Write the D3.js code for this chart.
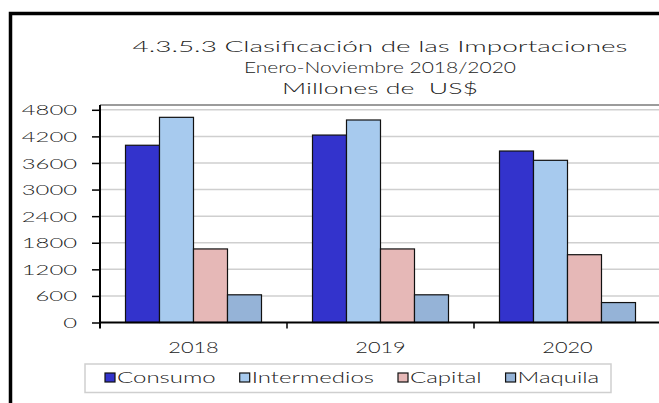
<!DOCTYPE html>
<html>
<head>
<meta charset="utf-8">
<script src="https://cdn.jsdelivr.net/npm/d3@7"></script>
<style>
  body { margin: 0; background: #fff; }
  svg { display: block; }
  text { font-family: Lato, "Open Sans", sans-serif; font-weight: 300; fill: #222; }
</style>
</head>
<body>
<script>
const years = ["2018", "2019", "2020"];
const series = ["Consumo", "Intermedios", "Capital", "Maquila"];
const consumo = [4000, 4230, 3870];
const intermedios = [4630, 4570, 3660];
const capital = [1660, 1660, 1530];
const maquila = [625, 625, 450];
const yTicks = [0, 600, 1200, 1800, 2400, 3000, 3600, 4200, 4800];
const titleLines = ["4.3.5.3 Clasificación de las Importaciones", "Enero-Noviembre 2018/2020", "Millones de  US$"];
const colors = ["#3333cc", "#a7caee", "#e6b8b7", "#95b3d7"];

const values = [consumo, intermedios, capital, maquila];
const data = years.map((yr, i) => ({
  year: yr,
  vals: series.map((s, j) => ({key: s, value: values[j][i]}))
}));

const W = 659, H = 403;
const mLeft = 100, mRight = 661, mTop = 105, mBottom = 322.5;
const titleWidths = [495, 272, 196];

// the source font is very wide: widen glyphs and spacing together
function widen(sel, k) {
  sel.each(function () {
    const L = this.getComputedTextLength();
    d3.select(this).attr("textLength", L * k).attr("lengthAdjust", "spacingAndGlyphs");
  });
}

const svg = d3.select("body").append("svg")
  .attr("width", W)
  .attr("height", H);

svg.append("rect").attr("width", W).attr("height", H).attr("fill", "#fff");

// outer frame (cut off on right and bottom)
svg.append("rect")
  .attr("x", 10.5).attr("y", 13.5)
  .attr("width", 700).attr("height", 450)
  .attr("fill", "#fff")
  .attr("stroke", "#000")
  .attr("stroke-width", 3.5);

// title
svg.append("g").selectAll("text")
  .data(titleLines)
  .join("text")
  .attr("x", 380)
  .attr("y", (d, i) => 52 + i * 21)
  .attr("text-anchor", "middle")
  .style("font-size", "16px")
  .style("white-space", "pre")
  .attr("textLength", (d, i) => titleWidths[i])
  .attr("lengthAdjust", "spacingAndGlyphs")
  .text(d => d);

const x = d3.scaleBand().domain(years).range([mLeft, mRight]);
const xs = d3.scaleBand().domain(series).range([0, x.bandwidth()]).paddingOuter(0.75);
const y = d3.scaleLinear().domain([0, 4800]).range([mBottom, 109.8]);
const color = d3.scaleOrdinal(series, colors);

// gridlines
svg.append("g")
  .selectAll("line")
  .data(yTicks.filter(d => d > 0))
  .join("line")
  .attr("x1", mLeft).attr("x2", mRight)
  .attr("y1", d => y(d)).attr("y2", d => y(d))
  .attr("stroke", "#cfcfcf")
  .attr("stroke-width", 1.5);

// plot area top border
svg.append("line")
  .attr("x1", mLeft).attr("x2", mRight)
  .attr("y1", mTop).attr("y2", mTop)
  .attr("stroke", "#7a7a7a")
  .attr("stroke-width", 1.5);

// bars
svg.append("g")
  .selectAll("g")
  .data(data)
  .join("g")
  .attr("transform", d => `translate(${x(d.year)},0)`)
  .selectAll("rect")
  .data(d => d.vals)
  .join("rect")
  .attr("x", d => xs(d.key))
  .attr("y", d => y(d.value))
  .attr("width", xs.bandwidth())
  .attr("height", d => y(0) - y(d.value))
  .attr("fill", d => color(d.key))
  .attr("stroke", "#111")
  .attr("stroke-width", 1.2);

// y axis
const yAxis = svg.append("g")
  .attr("transform", `translate(${mLeft},0)`)
  .call(d3.axisLeft(y).tickValues(yTicks).tickSize(8).tickFormat(""));
yAxis.select(".domain").attr("d", `M0,${mTop}V${mBottom + 6}`).attr("stroke", "#000").attr("stroke-width", 2);
yAxis.selectAll(".tick line").attr("stroke", "#000").attr("stroke-width", 1.5);
// start-anchored labels, widened, then right aligned by hand
yAxis.selectAll(".tick")
  .append("text")
  .attr("text-anchor", "start")
  .attr("dy", "0.36em")
  .style("font-size", "14px")
  .style("font-family", "Lato, sans-serif")
  .attr("fill", "#222")
  .text(d => d)
  .call(widen, 1.7)
  .attr("x", function () { return -23 - +this.getAttribute("textLength"); });

// x axis
const xAxis = svg.append("g")
  .attr("transform", `translate(0,${mBottom})`)
  .call(d3.axisBottom(x).tickSize(0).tickPadding(20));
xAxis.select(".domain").attr("d", `M${mLeft},0H${mRight}`).attr("stroke", "#000").attr("stroke-width", 2);
xAxis.selectAll(".tick text")
  .style("font-size", "15px")
  .style("font-family", "Lato, sans-serif")
  .attr("fill", "#222")
  .call(widen, 1.45);
xAxis.append("g")
  .selectAll("line")
  .data(years.slice(1))
  .join("line")
  .attr("x1", d => x(d)).attr("x2", d => x(d))
  .attr("y1", 0).attr("y2", 6)
  .attr("stroke", "#000")
  .attr("stroke-width", 1.5);

// legend
const legend = svg.append("g");
legend.append("rect")
  .attr("x", 85).attr("y", 364)
  .attr("width", 526).attr("height", 28.5)
  .attr("fill", "#fff")
  .attr("stroke", "#cfcfcf")
  .attr("stroke-width", 1.5);

let lx = 105;
series.forEach(s => {
  const g = legend.append("g").attr("transform", `translate(${lx},0)`);
  g.append("rect")
    .attr("x", 0).attr("y", 373)
    .attr("width", 10).attr("height", 9)
    .attr("fill", color(s))
    .attr("stroke", "#111")
    .attr("stroke-width", 1.2);
  const t = g.append("text")
    .attr("x", 12).attr("y", 383)
    .style("font-size", "15px")
    .text(s)
    .call(widen, 1.6);
  lx += 12 + +t.attr("textLength") + 24;
});
</script>
</body>
</html>
